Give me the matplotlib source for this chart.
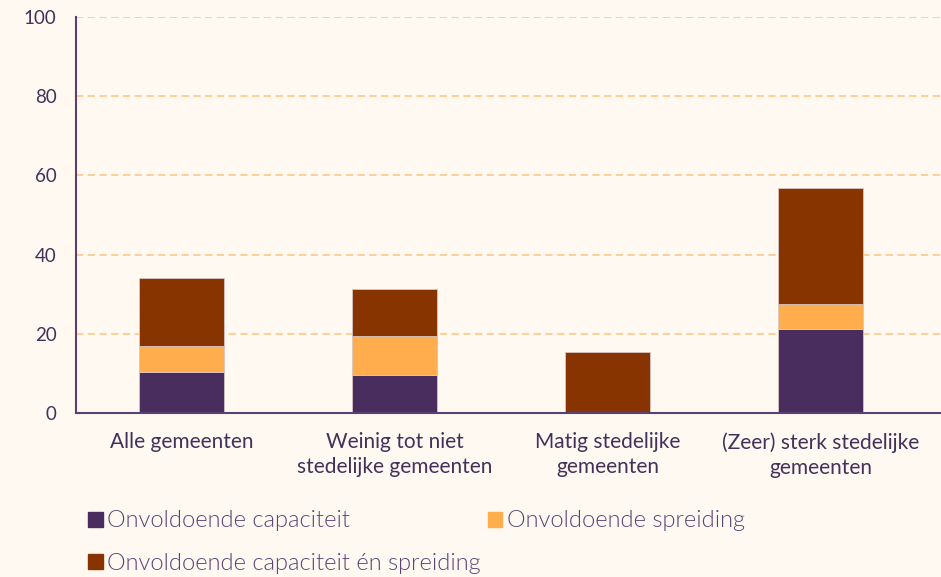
"""Stacked bar chart: onvoldoende capaciteit / spreiding per stedelijkheid."""

import matplotlib.pyplot as plt
from matplotlib.patches import Patch

categories = [
    "Alle gemeenten",
    "Weinig tot niet\nstedelijke gemeenten",
    "Matig stedelijke\ngemeenten",
    "(Zeer) sterk stedelijke\ngemeenten",
]
capaciteit = [10.4, 9.6, 0.0, 21.2]
spreiding = [6.6, 9.8, 0.0, 6.2]
beide = [17.2, 11.9, 15.3, 29.5]

series_labels = [
    "Onvoldoende capaciteit",
    "Onvoldoende spreiding",
    "Onvoldoende capaciteit én spreiding",
]
y_ticks = [0, 20, 40, 60, 80, 100]

BG = "#FFF9F2"
PURPLE = "#482D5E"
ORANGE = "#FFAD4D"
BROWN = "#873400"
TEXT = "#45305A"
GRID = "#FFCB8E"

plt.rcParams["font.family"] = ["Lato", "DejaVu Sans"]

fig = plt.figure(figsize=(9.41, 5.77), dpi=100, facecolor=BG)
ax = fig.add_axes([76 / 941, 164 / 577, 865 / 941, 396 / 577], facecolor=BG)

x = list(range(len(categories)))
width = 0.4
bottom2 = [a + b for a, b in zip(capaciteit, spreiding)]
edge = dict(edgecolor="#D9C4C0", linewidth=0.6)
ax.bar(x, capaciteit, width, color=PURPLE, zorder=3, **edge)
ax.bar(x, spreiding, width, bottom=capaciteit, color=ORANGE, zorder=3, **edge)
ax.bar(x, beide, width, bottom=bottom2, color=BROWN, zorder=3, **edge)

ax.set_xlim(-0.495, 3.566)
ax.set_ylim(0, 100)
ax.set_yticks(y_ticks)
ax.set_xticks(x)
ax.set_xticklabels(categories, fontsize=15, color=TEXT, linespacing=1.3)
ax.tick_params(axis="y", length=0, pad=14, labelsize=13.5, labelcolor=TEXT)
ax.tick_params(axis="x", length=0, pad=14)

for v in y_ticks[1:]:
    ax.axhline(v, color=GRID, linestyle=(0, (4, 2.5)), linewidth=1.3, zorder=1)

for side in ("top", "right"):
    ax.spines[side].set_visible(False)
for side in ("left", "bottom"):
    ax.spines[side].set_color("#5B416F")
    ax.spines[side].set_linewidth(1.5)
    ax.spines[side].set_zorder(4)

# legend fills column-wise, so order the entries to read row by row
handles = [Patch(color=c) for c in (PURPLE, ORANGE, BROWN)]
order = [0, 2, 1]
leg = fig.legend(
    [handles[i] for i in order],
    [series_labels[i] for i in order],
    loc="upper left",
    bbox_to_anchor=(79 / 941, 1 - 501 / 577),
    ncol=2,
    frameon=False,
    prop={"family": ["Lato", "DejaVu Sans"], "weight": 300, "size": 17},
    handlelength=0.6,
    handleheight=0.6,
    handletextpad=0.2,
    columnspacing=0.3,
    labelspacing=0.9,
    borderaxespad=0,
)
for t in leg.get_texts():
    t.set_color("#5E4376")

fig.savefig("out.png", dpi=100, facecolor=BG)
